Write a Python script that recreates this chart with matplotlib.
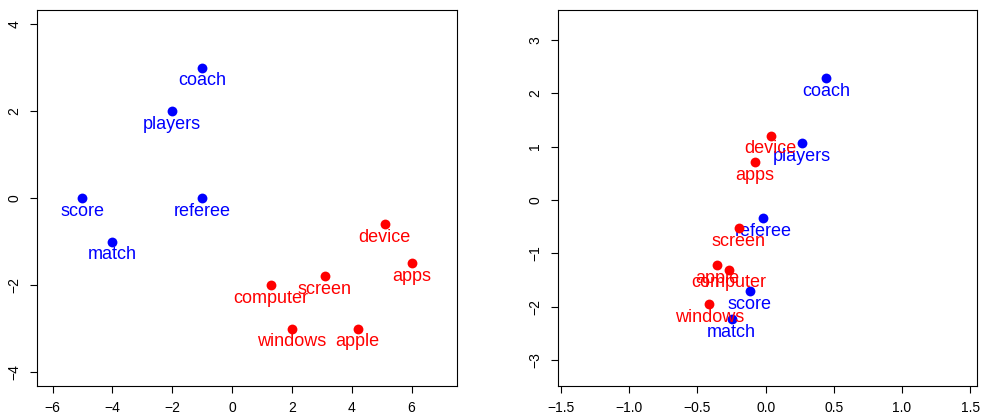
import matplotlib

matplotlib.use("Agg")
import matplotlib.pyplot as plt

plt.rcParams["font.family"] = ["Liberation Sans", "DejaVu Sans"]

# left panel: raw coordinates
left_words = ["coach", "players", "score", "referee", "match",
              "device", "apps", "screen", "computer", "windows", "apple"]
left_x = [-1, -2, -5, -1, -4, 5.1, 6, 3.1, 1.3, 2, 4.2]
left_y = [3, 2, 0, 0, -1, -0.6, -1.5, -1.8, -2, -3, -3]
left_col = ["blue"] * 5 + ["red"] * 6

# right panel: projected coordinates
right_words = ["coach", "players", "referee", "score", "match",
               "device", "apps", "screen", "apple", "computer", "windows"]
right_x = [0.444, 0.263, -0.02, -0.118, -0.25,
           0.038, -0.079, -0.199, -0.355, -0.272, -0.412]
right_y = [2.29, 1.07, -0.345, -1.71, -2.24,
           1.205, 0.71, -0.533, -1.22, -1.31, -1.96]
right_col = ["blue"] * 5 + ["red"] * 6

COLORS = {"blue": "#0000FF", "red": "#FF0000"}


def panel(ax, xs, ys, words, cols, xlim, ylim, xticks, yticks, xfmt):
    for x, y, w, c in zip(xs, ys, words, cols):
        ax.scatter([x], [y], s=50, color=COLORS[c], zorder=3, linewidths=0)
        ax.annotate(w, (x, y), xytext=(0, -9.5), textcoords="offset points",
                    ha="center", va="center", fontsize=13, color=COLORS[c])
    ax.set_xlim(*xlim)
    ax.set_ylim(*ylim)
    ax.set_xticks(xticks)
    ax.set_xticklabels([xfmt(t).replace("-", "\u2212") for t in xticks])
    ax.set_yticks(yticks)
    ax.set_yticklabels([str(t).replace("-", "\u2212") for t in yticks],
                       rotation=90, va="center")
    ax.tick_params(length=5, width=0.8, labelsize=10, pad=6)
    for s in ax.spines.values():
        s.set_linewidth(0.8)


fig = plt.figure(figsize=(9.84, 4.19), dpi=100)
ax1 = fig.add_axes([0.0376, 0.0788, 0.4268, 0.897])
ax2 = fig.add_axes([0.5668, 0.0788, 0.4261, 0.897])

panel(ax1, left_x, left_y, left_words, left_col,
      (-6.52, 7.52), (-4.32, 4.32), [-6, -4, -2, 0, 2, 4, 6], [-4, -2, 0, 2, 4],
      lambda t: str(t))
panel(ax2, right_x, right_y, right_words, right_col,
      (-1.525, 1.55), (-3.49, 3.56), [-1.5, -1.0, -0.5, 0.0, 0.5, 1.0, 1.5],
      [-3, -2, -1, 0, 1, 2, 3], lambda t: f"{t:.1f}")

fig.savefig("out.png", dpi=100)
